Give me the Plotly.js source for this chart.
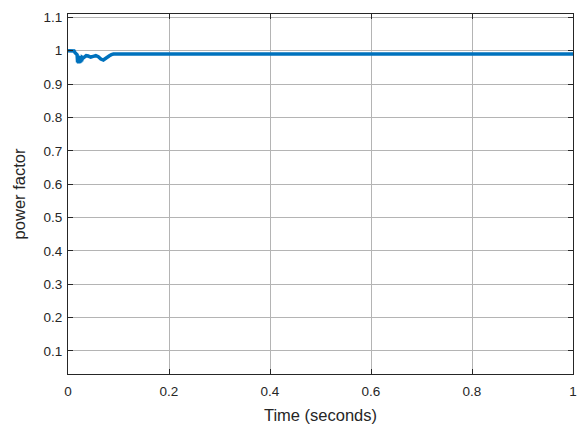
<!DOCTYPE html>
<html>
<head>
<meta charset="utf-8">
<script src="https://cdn.plot.ly/plotly-3.0.1.min.js"></script>
<style>html,body{margin:0;padding:0;background:#fff;}#chart{width:580px;height:425px;}</style>
</head>
<body>
<div id="chart"></div>
<script>
const timeSeconds = [0, 0.010, 0.012, 0.014, 0.016, 0.018, 0.019, 0.020, 0.021, 0.022, 0.023, 0.024, 0.025, 0.026, 0.027, 0.028, 0.030, 0.033, 0.036, 0.040, 0.045, 0.050, 0.055, 0.060, 0.065, 0.070, 0.074, 0.078, 0.082, 0.086, 0.090, 0.1, 0.2, 0.3, 0.4, 0.5, 0.6, 0.7, 0.8, 0.9, 1.0];
const powerFactor = [1.0, 1.0, 0.999, 0.994, 0.99, 0.988, 0.965, 0.985, 0.962, 0.984, 0.963, 0.983, 0.965, 0.982, 0.968, 0.980, 0.978, 0.982, 0.985, 0.984, 0.981, 0.983, 0.985, 0.982, 0.975, 0.972, 0.977, 0.982, 0.985, 0.988, 0.990, 0.990, 0.990, 0.990, 0.990, 0.990, 0.990, 0.990, 0.990, 0.990, 0.990];
const xTicks = [0, 0.2, 0.4, 0.6, 0.8, 1];
const yTicks = [0.1, 0.2, 0.3, 0.4, 0.5, 0.6, 0.7, 0.8, 0.9, 1, 1.1];

const FONT = 'Liberation Sans, Arial, sans-serif';
const trace = {
  x: timeSeconds, y: powerFactor, type: 'scatter', mode: 'lines',
  line: {color: '#0072BD', width: 3.5}, hoverinfo: 'skip'
};
const axisCommon = {
  showline: true, linecolor: '#262626', linewidth: 1, mirror: 'ticks',
  ticks: 'inside', ticklen: 5, tickcolor: '#262626',
  showgrid: true, gridcolor: '#b4b4b4', gridwidth: 1, zeroline: false,
  tickfont: {family: FONT, size: 13.5, color: '#262626'}
};
const layout = {
  width: 580, height: 425,
  margin: {l: 68, r: 7, t: 14, b: 51},
  paper_bgcolor: '#fff', plot_bgcolor: '#fff',
  showlegend: false,
  xaxis: Object.assign({}, axisCommon, {
    range: [0, 1], tickvals: xTicks, ticktext: xTicks.map(String),
    ticklabelstandoff: 5,
    title: {text: 'Time (seconds)', font: {family: FONT, size: 16.5, color: '#262626'}, standoff: 11}
  }),
  yaxis: Object.assign({}, axisCommon, {
    range: [0.031, 1.11], tickvals: yTicks, ticktext: yTicks.map(String),
    ticklabelstandoff: 2,
    title: {text: 'power factor', font: {family: FONT, size: 16.5, color: '#262626'}, standoff: 13}
  })
};
Plotly.newPlot('chart', [trace], layout, {displayModeBar: false, staticPlot: true});
</script>
</body>
</html>
